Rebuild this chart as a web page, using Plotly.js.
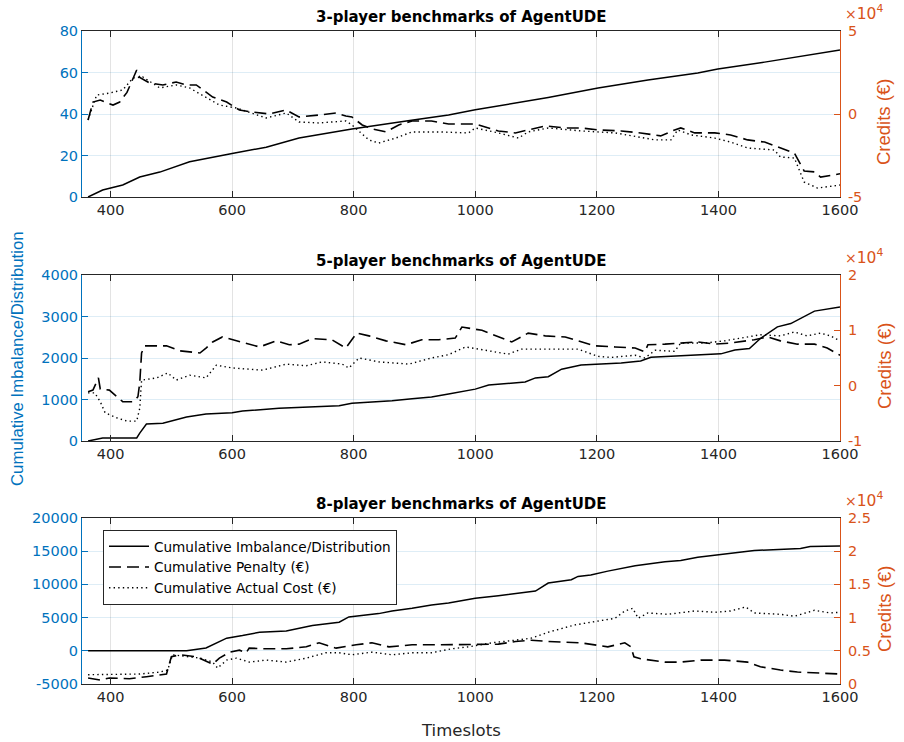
<!DOCTYPE html>
<html>
<head>
<meta charset="utf-8">
<script src="https://cdn.plot.ly/plotly-3.0.1.min.js"></script>
<style>html,body{margin:0;padding:0;background:#fff;}#chart{width:904px;height:742px;}</style>
</head>
<body>
<div id="chart"></div>
<script>
// ---------- 3-player ----------
const p3_imb_x = [363,387,420,448,481,530,600,656,710,797,895,956,1000,1066,1120,1202,1284,1366,1399,1476,1558,1600];
const p3_imb_y = [0,3.4,5.8,9.6,12,17,21,24,28.4,32.8,37,39.5,42,45.3,48,52.5,56.4,59.8,61.7,65,69,70.8];
const p3_pen_x = [363,371,383,404,415,427,443,448,464,486,508,525,541,568,591,612,633,661,689,710,743,771,787,797,814,830,853,874,896,928,956,1000,1038,1066,1087,1115,1148,1174,1202,1240,1272,1305,1328,1338,1361,1394,1420,1448,1476,1502,1525,1541,1558,1568,1600];
const p3_pen_y = [-3600,7200,8400,5400,7200,13000,26500,22000,18700,17500,19300,17500,17500,10200,7200,2400,1200,0,2400,-1800,-600,600,-1200,-1800,-6600,-9000,-10800,-6600,-4200,-4200,-6000,-6000,-10200,-11400,-9600,-7200,-8400,-8400,-9600,-10200,-11400,-13200,-9600,-8400,-11400,-11400,-12600,-15600,-16900,-20500,-23500,-34300,-34900,-38000,-36000];
const p3_cost_x = [363,377,398,420,437,453,481,508,530,557,579,607,633,656,689,710,743,787,797,825,841,869,896,940,989,1000,1038,1071,1087,1120,1174,1230,1296,1322,1333,1355,1394,1420,1448,1492,1502,1525,1541,1563,1600];
const p3_cost_y = [-3600,11400,12600,14500,21700,22300,15700,17500,15700,10200,5400,3600,600,-2400,600,-4800,-5400,-4200,-6600,-15600,-17500,-14500,-10800,-10800,-11400,-8400,-11400,-14500,-10800,-8400,-10200,-11400,-15600,-15600,-9600,-12600,-14500,-16900,-20500,-21700,-25900,-26500,-41000,-44600,-42800];

// ---------- 5-player ----------
const p5_imb_x = [363,387,443,448,459,486,525,557,600,617,677,776,797,863,896,928,956,1000,1022,1082,1099,1120,1142,1174,1240,1272,1289,1404,1427,1451,1469,1497,1519,1535,1558,1600];
const p5_imb_y = [0,72,72,190,410,430,580,650,680,720,790,850,910,970,1020,1060,1130,1250,1350,1420,1520,1550,1730,1830,1880,1930,2020,2100,2190,2230,2470,2750,2830,2960,3130,3230];
const p5_pen_x = [363,371,380,383,398,410,420,437,445,448,451,456,492,514,547,557,568,584,617,645,673,694,710,732,764,787,805,825,853,886,912,940,967,978,1011,1038,1060,1087,1115,1148,1197,1230,1263,1279,1284,1312,1338,1366,1394,1420,1459,1481,1502,1530,1558,1579,1600];
const p5_pen_y = [-1100,-800,1400,-600,-800,-2000,-2900,-2900,-2000,500,5900,7200,7200,6300,5900,6800,7900,8800,7900,7000,8100,7400,7500,8500,8300,6800,9500,9000,8100,7400,8300,8300,8600,10600,10000,8800,7900,9500,9000,8800,7200,7000,6800,6100,7400,7500,7700,7900,7500,7700,8300,8800,8100,7500,7500,6800,5500];
const p5_cost_x = [363,374,383,391,410,427,443,448,451,476,494,508,530,557,574,600,650,689,722,748,781,792,809,841,891,928,956,984,1022,1054,1076,1120,1169,1202,1223,1263,1279,1296,1328,1338,1378,1410,1437,1469,1502,1525,1546,1568,1584,1600];
const p5_cost_y = [-1300,-1300,-2900,-4900,-5800,-6400,-6400,-4100,1000,1400,2300,1000,1900,1400,3700,3200,2800,3900,3600,4300,3900,3200,5000,4300,3900,5000,5600,7000,6300,5700,6600,6600,6600,5300,5100,5500,5000,6400,6200,7700,7700,8100,8600,9200,9000,9700,9000,9500,9000,8100];

// ---------- 8-player ----------
const p8_imb_x = [363,525,557,574,591,617,645,689,732,776,792,841,863,896,928,956,1000,1038,1099,1120,1158,1169,1190,1218,1263,1312,1338,1366,1420,1459,1535,1551,1600];
const p8_imb_y = [0,0,430,1200,1900,2300,2800,3000,3800,4300,5100,5600,6000,6400,6900,7200,7900,8300,9000,10200,10700,11200,11400,12000,12800,13400,13600,14100,14700,15100,15400,15700,15800];
const p8_pen_x = [363,383,398,415,431,459,481,492,500,514,541,557,568,579,596,612,623,628,656,689,722,743,771,804,830,858,896,940,1000,1038,1066,1092,1120,1174,1218,1246,1256,1261,1272,1312,1338,1371,1410,1448,1469,1502,1530,1558,1600];
const p8_pen_y = [900,600,900,800,800,1100,1400,1500,4100,4400,4100,3500,3000,3900,4800,5100,4700,5400,5300,5300,5600,6200,5400,5900,6200,5600,5900,5900,6000,6000,6400,6600,6400,6200,5600,6200,5600,4100,3800,3300,3300,3600,3600,3300,2600,2100,1800,1700,1500];
const p8_cost_x = [363,383,415,448,481,494,502,525,547,568,576,591,607,628,656,689,722,754,776,797,830,863,896,928,961,989,1027,1066,1092,1120,1164,1190,1230,1246,1259,1268,1284,1317,1361,1394,1420,1445,1459,1502,1525,1558,1584,1600];
const p8_cost_y = [1400,1400,1400,1500,1800,2100,4400,4100,3900,3300,2400,3600,3900,3300,3600,3300,3900,4700,4700,4400,4800,4400,4700,4700,5300,5600,6200,6600,6900,7800,8900,9300,9900,11000,11400,9900,10700,10500,11000,10800,11000,11600,10700,10500,10200,11100,10700,10800];

const titles = ["3-player benchmarks of AgentUDE","5-player benchmarks of AgentUDE","8-player benchmarks of AgentUDE"];
const leftRanges = [[0,80],[0,4000],[-5000,20000]];
const leftTicks = [[0,20,40,60,80],[0,1000,2000,3000,4000],[-5000,0,5000,10000,15000,20000]];
const rightRanges = [[-50000,50000],[-10000,20000],[0,25000]];
const rightTicks = [[-50000,0,50000],[-10000,0,10000,20000],[0,5000,10000,15000,20000,25000]];
const rightTickText = [["-5","0","5"],["-1","0","1","2"],["0","0.5","1","1.5","2","2.5"]];
const xTicks = [400,600,800,1000,1200,1400,1600];
const seriesNames = ["Cumulative Imbalance/Distribution","Cumulative Penalty (€)","Cumulative Actual Cost (€)"];

const BLUE = "#0072BD", ORANGE = "#D95319", DARK = "#262626";
const HFONT = "DejaVu Sans, Liberation Sans, Arial, sans-serif";   // horizontal texts (wide)
const VFONT = "Liberation Sans, Arial, sans-serif";                 // vertical texts
const W = 904, H = 742;
const px = v => v / W;
const py = v => 1 - v / H;
const tops = [31, 275, 518], bots = [197, 441, 684];
const xL = 82, xR = 840;

const data = [];
const sets = [
  [p3_imb_x,p3_imb_y,p3_pen_x,p3_pen_y,p3_cost_x,p3_cost_y],
  [p5_imb_x,p5_imb_y,p5_pen_x,p5_pen_y,p5_cost_x,p5_cost_y],
  [p8_imb_x,p8_imb_y,p8_pen_x,p8_pen_y,p8_cost_x,p8_cost_y]
];
const layout = {
  width: W, height: H,
  margin: {l:0, r:0, t:0, b:0},
  paper_bgcolor: "#fff", plot_bgcolor: "#fff",
  font: {family: HFONT, size: 14, color: DARK},
  showlegend: true,
  legend: {
    x: px(103), y: py(530), xanchor: "left", yanchor: "top",
    bgcolor: "#fff", bordercolor: DARK, borderwidth: 1,
    font: {family: HFONT, size: 13.6, color: "#000"},
    tracegroupgap: 0, itemwidth: 40
  },
  annotations: [], shapes: []
};

for (let i = 0; i < 3; i++) {
  const n = i + 1;
  const xa = "x" + (n === 1 ? "" : n), ya = "y" + (2*i+1 === 1 ? "" : (2*i+1)), ya2 = "y" + (2*i+2);
  const s = sets[i];
  data.push({x: s[0], y: s[1], xaxis: xa, yaxis: ya, mode: "lines", name: seriesNames[0], showlegend: i === 2,
             line: {color: "#000", width: 1.5}});
  data.push({x: s[2], y: s[3], xaxis: xa, yaxis: ya2, mode: "lines", name: seriesNames[1], showlegend: i === 2,
             line: {color: "#000", width: 1.6, dash: "12px,6px"}});
  data.push({x: s[4], y: s[5], xaxis: xa, yaxis: ya2, mode: "lines", name: seriesNames[2], showlegend: i === 2,
             line: {color: "#000", width: 1.4, dash: "1.4px,3.2px"}});

  const dom = [py(bots[i]), py(tops[i])];
  const xKey = "xaxis" + (n === 1 ? "" : n);
  const yKey = "yaxis" + (2*i+1 === 1 ? "" : (2*i+1));
  const y2Key = "yaxis" + (2*i+2);
  layout[xKey] = {
    domain: [px(xL), px(xR)], anchor: ya, range: [353, 1600],
    tickvals: xTicks, ticks: "inside", ticklen: 6, tickcolor: DARK,
    showline: true, linecolor: DARK, linewidth: 1, mirror: "ticks",
    showgrid: true, gridcolor: "rgba(38,38,38,0.13)", gridwidth: 1,
    zeroline: false, tickfont: {family: HFONT, size: 14.5, color: DARK}
  };
  layout[yKey] = {
    domain: dom, anchor: xa, range: leftRanges[i], tickvals: leftTicks[i],
    ticktext: leftTicks[i].map(v => String(v)),
    ticks: "inside", ticklen: 6, tickcolor: BLUE,
    showline: true, linecolor: BLUE, linewidth: 1,
    showgrid: true, gridcolor: "rgba(0,114,189,0.13)", gridwidth: 1,
    zeroline: false, tickfont: {family: HFONT, size: 14.5, color: BLUE}
  };
  layout[y2Key] = {
    domain: dom, anchor: xa, overlaying: ya, side: "right",
    range: rightRanges[i], tickvals: rightTicks[i], ticktext: rightTickText[i],
    ticks: "inside", ticklen: 6, tickcolor: ORANGE, ticklabelstandoff: 4,
    showline: true, linecolor: ORANGE, linewidth: 1,
    showgrid: false, zeroline: false, tickfont: {family: HFONT, size: 14.5, color: ORANGE}
  };
  layout.annotations.push({
    text: "<b>" + titles[i] + "</b>", xref: "paper", yref: "paper",
    x: px(461), y: py(tops[i] - 3), xanchor: "center", yanchor: "bottom", showarrow: false,
    font: {family: HFONT, size: 15, color: "#000"}
  });
  layout.annotations.push({
    text: "<span style='font-size:14px'>×</span>10<sup>4</sup>", xref: "paper", yref: "paper",
    x: px(843), y: py(tops[i] - 6), xanchor: "left", yanchor: "bottom", showarrow: false,
    font: {family: HFONT, size: 15.5, color: ORANGE}
  });
  layout.annotations.push({
    text: "Credits (€)", xref: "paper", yref: "paper", textangle: -90,
    x: px(884), y: py((tops[i] + bots[i]) / 2 + 8), xanchor: "center", yanchor: "middle", showarrow: false,
    font: {family: VFONT, size: 18.5, color: ORANGE}
  });
}
layout.annotations.push({
  text: "Cumulative Imbalance/Distribution", xref: "paper", yref: "paper", textangle: -90,
  x: px(18), y: py(359), xanchor: "center", yanchor: "middle", showarrow: false,
  font: {family: VFONT, size: 16.8, color: BLUE}
});
layout.annotations.push({
  text: "Timeslots", xref: "paper", yref: "paper",
  x: px(461), y: py(730), xanchor: "center", yanchor: "middle", showarrow: false,
  font: {family: HFONT, size: 16.5, color: DARK}
});

Plotly.newPlot("chart", data, layout, {displayModeBar: false, staticPlot: true});
</script>
</body>
</html>
